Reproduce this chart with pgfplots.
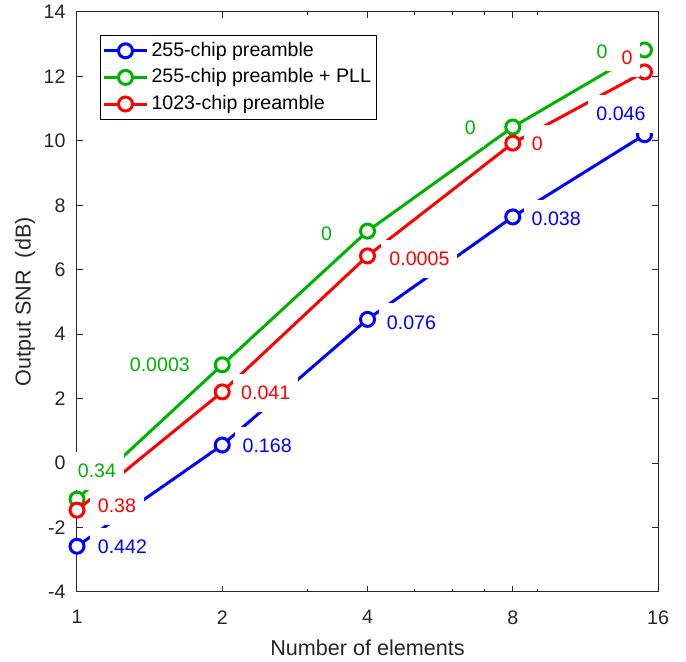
\documentclass[border=0pt]{standalone}
\usepackage{fontspec}
\setmainfont{Liberation Sans}
\usepackage{pgfplots}
\pgfplotsset{compat=1.18}
\definecolor{cb}{RGB}{0,0,255}
\definecolor{cg}{RGB}{0,178,0}
\definecolor{cr}{RGB}{255,0,0}
\definecolor{axc}{RGB}{38,38,38}
\newcommand{\lbl}[4]{\node[fill=white, text=#1, inner xsep=4pt, inner ysep=0pt, text height=7pt, text depth=0pt, minimum height=19pt, font=\fontsize{9.8}{11}\selectfont] at (axis cs:#2,#3) {#4};}
\begin{document}
\begin{tikzpicture}
\path[use as bounding box] (0,0) rectangle (343pt,331pt);
\begin{axis}[
  at={(38.5pt,35pt)}, anchor=south west,
  scale only axis, width=290.5pt, height=290pt,
  xmode=log, log basis x=2,
  xmin=1, xmax=16, ymin=-4, ymax=14,
  xtick={1,2,4,8,16}, xticklabels={1,2,4,8,16},
  extra x ticks={3,5,6,7,9}, extra x tick labels={},
  extra x tick style={major tick length=1.6pt},
  ytick={-4,-2,0,2,4,6,8,10,12,14},
  yticklabels={-4,-2,0,2,4,6,8,10,12,14},
  tick align=inside, tick pos=both,
  major tick length=3pt,
  every tick/.style={axc, line width=0.5pt},
  axis line style={axc, line width=0.5pt},
  tick label style={font=\fontsize{9.8}{11}\selectfont, text=axc},
  xticklabel style={yshift=-5.7pt},
  yticklabel style={xshift=-2.2pt},
  xlabel={Number of elements},
  ylabel={Output SNR\ \ (dB)},
  xlabel style={at={(axis description cs:0.5,-0.0966)}, anchor=center, font=\fontsize{10.8}{13}\selectfont, text=axc},
  ylabel style={at={(axis description cs:-0.0895,0.5)}, anchor=center, font=\fontsize{10.8}{13}\selectfont, text=axc},
  clip=false, clip marker paths=true,
  legend style={at={(0.0396,0.9603)}, anchor=north west, draw=black, line width=0.5pt, fill=white,
    font=\fontsize{9.8}{11}\selectfont, inner xsep=1pt, inner ysep=1pt, row sep=0pt,
    nodes={inner xsep=1.5pt, inner ysep=1.4pt, text height=8pt, text depth=2.5pt}},
  legend cell align=left,
  legend image code/.code={\draw[mark repeat=2, mark phase=2, #1] plot coordinates {(0pt,0pt) (10.75pt,0pt) (21.5pt,0pt)};},
]
\addplot[cb, line width=1.5pt, mark=*, mark size=3.5pt, mark options={fill=white, solid}]
  coordinates {(1,-2.58) (2,0.56) (4,4.46) (8,7.64) (15,10.19)};
\addlegendentry{255-chip preamble}
\addplot[cg, line width=1.5pt, mark=*, mark size=3.5pt, mark options={fill=white, solid}]
  coordinates {(1,-1.12) (2,3.05) (4,7.2) (8,10.43) (15,12.82)};
\addlegendentry{255-chip preamble + PLL}
\addplot[cr, line width=1.5pt, mark=*, mark size=3.5pt, mark options={fill=white, solid}]
  coordinates {(1,-1.46) (2,2.21) (4,6.43) (8,9.93) (15,12.14)};
\addlegendentry{1023-chip preamble}
\lbl{cb}{1.242}{-2.603}{0.442}
\lbl{cb}{2.478}{0.531}{0.168}
\lbl{cb}{4.933}{4.379}{0.076}
\lbl{cb}{9.843}{7.576}{0.038}
\lbl{cb}{13.41}{10.835}{0.046}
\lbl{cg}{1.100}{-0.245}{0.34}
\lbl{cg}{1.485}{3.045}{0.0003}
\lbl{cg}{3.291}{7.141}{0}
\lbl{cg}{6.534}{10.40}{0}
\lbl{cg}{12.254}{12.759}{0}
\lbl{cr}{1.210}{-1.331}{0.38}
\lbl{cr}{2.461}{2.176}{0.041}
\lbl{cr}{5.125}{6.335}{0.0005}
\lbl{cr}{8.99}{9.904}{0}
\lbl{cr}{13.80}{12.573}{0}
\end{axis}
\end{tikzpicture}
\end{document}
